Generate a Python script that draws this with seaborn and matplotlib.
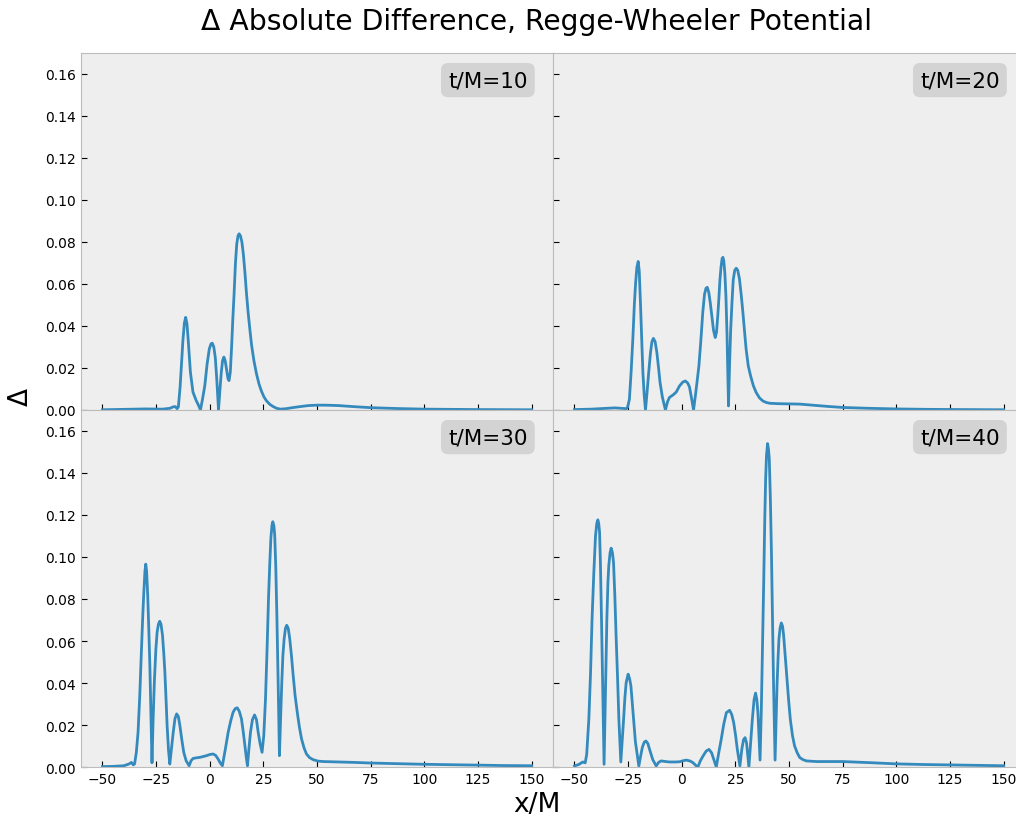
import matplotlib
matplotlib.use("Agg")
import matplotlib.pyplot as plt
import seaborn as sns
import pandas as pd

# Valores leidos a ojo de la figura original (x/M, Delta)
x_t10 = [-50, -40, -30, -22, -18.5, -17, -16, -15.2, -14.6, -13.8, -13.2, -12.5, -11.8, -11.2, -10.6, -10.0,
         -9.0, -7.8, -6.3, -5.2, -4.3, -3.3, -2.3, -1.2, -0.2, 0.6, 1.2, 1.9, 2.6, 3.3, 4.1, 4.8, 5.4, 6.0, 6.6,
         7.2, 7.9, 8.5, 9.0, 9.6, 10.2, 10.8, 11.3, 12.0, 12.6, 13.2, 13.7, 14.3, 15.0, 15.7, 16.4, 17.1, 17.9,
         18.7, 19.5, 20.6, 21.8, 23.0, 24.1, 25.3, 26.5, 28.0, 29.6, 31.2, 33.0, 35.5, 38.5, 42, 46, 50, 54, 60,
         67, 75, 87, 100, 125, 150]
delta_t10 = [0.0001, 0.0003, 0.0005, 0.0004, 0.0008, 0.0015, 0.0016, 0.0006, 0.0015, 0.011, 0.021, 0.033, 0.0415,
             0.0441, 0.041, 0.033, 0.018, 0.0085, 0.0045, 0.0022, 0.0, 0.0055, 0.0115, 0.022, 0.029, 0.0315, 0.0318,
             0.030, 0.025, 0.0145, 0.0, 0.010, 0.018, 0.0235, 0.0252, 0.0235, 0.019, 0.015, 0.014, 0.018, 0.030,
             0.044, 0.054, 0.070, 0.079, 0.083, 0.0839, 0.083, 0.080, 0.074, 0.0656, 0.056, 0.0465, 0.0385, 0.031,
             0.0235, 0.0172, 0.0123, 0.0090, 0.0062, 0.0043, 0.0027, 0.0016, 0.0008, 0.0004, 0.0006, 0.0011, 0.0016,
             0.0021, 0.0023, 0.0023, 0.0021, 0.0016, 0.0011, 0.0007, 0.0004, 0.0002, 0.0001]

x_t20 = [-50, -42, -35, -31, -27, -25.8, -25.2, -24.4, -23.6, -22.8, -22.1, -21.5, -20.9, -20.3, -19.8, -19.2,
         -18.6, -18.1, -17.5, -16.9, -16.2, -15.4, -14.6, -13.9, -13.2, -12.4, -11.6, -10.8, -10.1, -9.0, -7.6,
         -6.6, -5.7, -4.0, -2.6, -1.0, 0.5, 1.7, 2.8, 3.6, 4.5, 5.5, 6.5, 7.2, 8.0, 8.9, 9.8, 10.6, 11.3, 11.9,
         12.6, 13.3, 14.0, 14.8, 15.6, 16.2, 16.8, 17.3, 17.8, 18.3, 18.8, 19.2, 19.6, 20.1, 20.6, 21.1, 21.5,
         21.8, 22.3, 22.8, 23.4, 24.0, 24.7, 25.4, 26.1, 26.9, 27.7, 28.5, 29.3, 30.0, 31.0, 32.1, 33.4, 34.7,
         36.2, 37.8, 39.3, 41, 45, 50, 55, 62, 68, 75, 87, 100, 115, 130, 150]
delta_t20 = [0.0002, 0.0004, 0.0008, 0.0010, 0.0007, 0.0006, 0.0015, 0.005, 0.018, 0.0337, 0.050, 0.0605, 0.068,
             0.0707, 0.066, 0.0497, 0.032, 0.0178, 0.007, 0.0, 0.008, 0.0178, 0.027, 0.0325, 0.0341, 0.0325,
             0.0274, 0.020, 0.013, 0.006, 0.0, 0.004, 0.006, 0.0072, 0.0085, 0.0115, 0.0133, 0.0138, 0.0128,
             0.011, 0.006, 0.0, 0.008, 0.014, 0.021, 0.033, 0.0465, 0.055, 0.058, 0.0584, 0.056, 0.051, 0.045,
             0.038, 0.0345, 0.037, 0.045, 0.053, 0.062, 0.068, 0.072, 0.0727, 0.071, 0.065, 0.054, 0.036, 0.016,
             0.0019, 0.022, 0.038, 0.051, 0.062, 0.0665, 0.0675, 0.0665, 0.0624, 0.055, 0.0465, 0.037, 0.029,
             0.021, 0.0162, 0.0115, 0.0083, 0.0058, 0.0043, 0.0036, 0.0032, 0.0030, 0.0029, 0.0028, 0.0022,
             0.0017, 0.0012, 0.0008, 0.0005, 0.0003, 0.0002, 0.0001]

x_t30 = [-50, -45, -40, -37.5, -36.5, -35.6, -35.0, -34.2, -33.4, -32.6, -31.8, -31.2, -30.7, -30.2, -29.8, -29.4,
         -28.9, -28.4, -27.9, -27.4, -26.9, -26.4, -25.8, -25.1, -24.5, -23.9, -23.3, -22.7, -22.0, -21.4, -20.9,
         -20.3, -19.85, -19.2, -18.6, -17.8, -17.0, -16.2, -15.4, -14.6, -13.9, -13.0, -12.1, -11.0, -9.6, -8.7,
         -7.7, -6.0, -4.6, -3.0, -1.5, 0.2, 1.6, 2.8, 3.9, 5.0, 5.9, 7.2, 8.6, 9.8, 10.9, 11.9, 12.8, 13.8, 14.8,
         15.6, 16.4, 17.0, 17.6, 18.3, 19.0, 19.9, 20.9, 21.8, 22.6, 23.5, 24.4, 25.2, 26.0, 26.7, 27.4, 28.0,
         28.5, 29.0, 29.4, 29.9, 30.3, 30.8, 31.3, 31.9, 32.5, 33.0, 33.6, 34.1, 34.7, 35.3, 35.9, 36.6, 37.3,
         38.1, 38.9, 39.8, 40.8, 41.8, 42.8, 44.0, 45.1, 46.5, 48.2, 50.5, 53, 60, 67, 75, 87, 100, 112, 125,
         137, 150]
delta_t30 = [0.0002, 0.0003, 0.0006, 0.0015, 0.0022, 0.0010, 0.0015, 0.007, 0.0165, 0.034, 0.0563, 0.072, 0.0834,
             0.093, 0.0966, 0.093, 0.0818, 0.066, 0.0484, 0.025, 0.002, 0.022, 0.0404, 0.056, 0.0643, 0.068,
             0.0694, 0.068, 0.0627, 0.054, 0.0452, 0.031, 0.0197, 0.008, 0.0014, 0.009, 0.0165, 0.023, 0.0253,
             0.024, 0.0197, 0.013, 0.007, 0.003, 0.0006, 0.003, 0.0041, 0.0044, 0.0046, 0.005, 0.0054, 0.006,
             0.0062, 0.0055, 0.0038, 0.0018, 0.0006, 0.008, 0.0165, 0.022, 0.0261, 0.0278, 0.0282, 0.0265, 0.0229,
             0.017, 0.0102, 0.005, 0.0006, 0.009, 0.0165, 0.0225, 0.0248, 0.0225, 0.0165, 0.011, 0.007, 0.015,
             0.0325, 0.055, 0.0802, 0.097, 0.1088, 0.115, 0.1168, 0.115, 0.1104, 0.095, 0.0722, 0.040, 0.0054,
             0.022, 0.0404, 0.053, 0.0611, 0.066, 0.0675, 0.066, 0.0611, 0.053, 0.0436, 0.034, 0.0261, 0.019,
             0.0134, 0.009, 0.0062, 0.0045, 0.0035, 0.0028, 0.0026, 0.0024, 0.0022, 0.0019, 0.0016, 0.0013,
             0.0011, 0.0009, 0.0007, 0.0006]

x_t40 = [-50, -48, -46.1, -45.0, -44.3, -43.3, -42.5, -41.8, -41.0, -40.2, -39.6, -39.1, -38.7, -38.3, -37.9, -37.4,
         -36.8, -36.2, -35.5, -34.9, -34.4, -34.0, -33.4, -32.9, -32.3, -31.8, -31.2, -30.6, -29.9, -29.3, -28.4,
         -27.7, -27.1, -26.5, -25.9, -25.0, -24.3, -23.7, -23.1, -22.5, -21.6, -20.0, -19.2, -18.4, -17.5, -16.7,
         -15.8, -15.0, -13.5, -11.9, -10.8, -9.6, -7.5, -5.7, -3.0, -1.0, 0.7, 2.1, 3.8, 5.2, 6.5, 7.5, 8.7, 9.9,
         11.4, 12.7, 13.9, 14.9, 16.1, 17.2, 18.4, 19.6, 20.8, 22.3, 23.3, 24.2, 25.1, 25.9, 27.1, 28.0, 28.8,
         29.5, 30.2, 31.3, 32.1, 32.9, 33.7, 34.4, 35.0, 35.5, 36.0, 36.5, 37.1, 37.6, 38.2, 38.7, 39.1, 39.5,
         40.0, 40.4, 40.8, 41.3, 41.8, 42.3, 42.8, 43.5, 44.0, 44.4, 44.9, 45.3, 45.8, 46.4, 47.0, 47.5, 48.3,
         49.1, 49.8, 50.6, 51.6, 52.6, 53.8, 55.0, 56.5, 58.1, 62.8, 68, 75, 87, 100, 112, 125, 137, 150]
delta_t40 = [0.0005, 0.0012, 0.0024, 0.002, 0.006, 0.0227, 0.045, 0.0705, 0.092, 0.110, 0.116, 0.1177, 0.116,
             0.1118, 0.097, 0.0705, 0.035, 0.0013, 0.040, 0.0705, 0.088, 0.0959, 0.102, 0.1042, 0.102, 0.0975,
             0.082, 0.0625, 0.042, 0.0227, 0.0024, 0.013, 0.0227, 0.033, 0.0402, 0.0442, 0.042, 0.0387, 0.031,
             0.0227, 0.012, 0.0005, 0.005, 0.0092, 0.0118, 0.0124, 0.0112, 0.0084, 0.0035, 0.0005, 0.0022, 0.0029,
             0.0026, 0.0024, 0.0024, 0.0025, 0.003, 0.0033, 0.0029, 0.0021, 0.0008, 0.0, 0.003, 0.0052, 0.0076,
             0.0084, 0.0068, 0.0037, 0.0, 0.0065, 0.0132, 0.0205, 0.0259, 0.027, 0.025, 0.0212, 0.015, 0.0084,
             0.0005, 0.0085, 0.013, 0.014, 0.0115, 0.0, 0.011, 0.0227, 0.032, 0.0352, 0.032, 0.0259, 0.014, 0.0033,
             0.028, 0.0546, 0.088, 0.1182, 0.137, 0.1484, 0.154, 0.1515, 0.1468, 0.128, 0.1023, 0.070, 0.0387,
             0.0033, 0.022, 0.0387, 0.052, 0.0609, 0.066, 0.0686, 0.067, 0.0625, 0.052, 0.0418, 0.032, 0.0227,
             0.015, 0.010, 0.0068, 0.0045, 0.0035, 0.0029, 0.0026, 0.0026, 0.0026, 0.0021, 0.0015, 0.0012, 0.001,
             0.0008, 0.0006]

tiempos = ["t/M=10", "t/M=20", "t/M=30", "t/M=40"]
series = [(x_t10, delta_t10), (x_t20, delta_t20), (x_t30, delta_t30), (x_t40, delta_t40)]

df = pd.concat([pd.DataFrame({"x": xs, "delta": ys, "t": t}) for t, (xs, ys) in zip(tiempos, series)],
               ignore_index=True)

plt.style.use("bmh")
plt.rcParams.update({"axes.grid": False, "font.family": ["DejaVu Sans"]})

fig, axes = plt.subplots(2, 2, sharex=True, sharey=True, figsize=(10.16, 8.2), dpi=100)

# posiciones fijas: la columna derecha se sale del lienzo como en el original
w, h = 0.4646, 0.4354
posiciones = [[0.0797, 0.4988, w, h], [0.5443, 0.4988, w, h],
              [0.0797, 0.0634, w, h], [0.5443, 0.0634, w, h]]

for ax, t, pos in zip(axes.flat, tiempos, posiciones):
    ax.set_position(pos)
    sns.lineplot(data=df[df["t"] == t], x="x", y="delta", ax=ax, color="#348ABD", linewidth=2,
                 estimator=None, sort=False)
    ax.set_xlim(-60, 160)
    ax.set_ylim(0, 0.17)
    ax.set_xlabel("")
    ax.set_ylabel("")
    ax.set_xticks([-50, -25, 0, 25, 50, 75, 100, 125, 150])
    ax.set_yticks([0.0, 0.02, 0.04, 0.06, 0.08, 0.10, 0.12, 0.14, 0.16])
    ax.yaxis.set_major_formatter(matplotlib.ticker.FormatStrFormatter("%.2f"))
    ax.tick_params(direction="in", length=4, labelsize=10)
    ax.text(0.862, 0.924, t, transform=ax.transAxes, ha="center", va="center", fontsize=15.5,
            bbox=dict(boxstyle="round,pad=0.33", facecolor="#d3d3d3", edgecolor="none"))

fig.text(0.5285, 0.973, "\u0394 Absolute Difference, Regge-Wheeler Potential", ha="center", va="center",
         fontsize=20.3)
fig.text(0.5285, 0.018, "x/M", ha="center", va="center", fontsize=19)
fig.text(0.02, 0.516, "\u0394", ha="center", va="center", fontsize=19, rotation=90)

fig.savefig("out.png", dpi=100)
